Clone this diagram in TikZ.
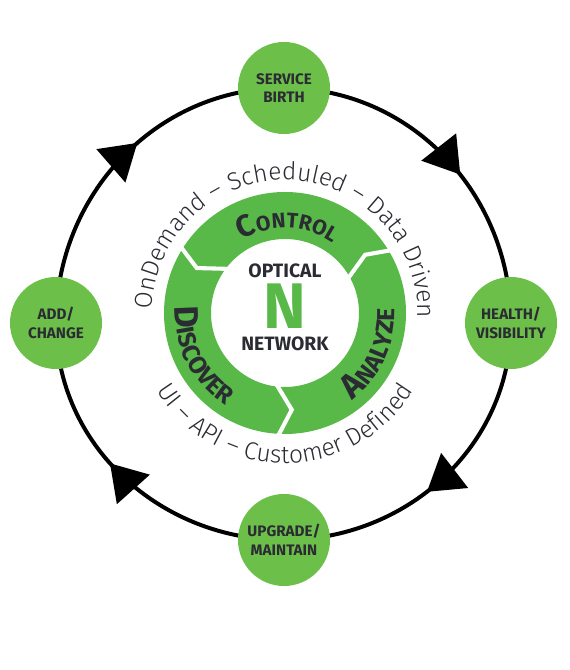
\documentclass[tikz,border=0pt]{standalone}
\usepackage{fontspec}
\setmainfont{Fira Sans}
\newfontfamily\lightfont{Fira Sans Light}
\usetikzlibrary{decorations.text,decorations.markings,arrows.meta,backgrounds}
\definecolor{nodegreen}{RGB}{108,192,74}
\definecolor{ringgreen}{RGB}{88,185,72}
\definecolor{inkgray}{RGB}{43,43,51}
\newcommand\ringbig{\bfseries\fontsize{26}{26}\selectfont\color{inkgray}}
\newcommand\ringsmall{\bfseries\fontsize{18}{18}\selectfont\color{inkgray}}
\newcommand\sidebig{\bfseries\fontsize{29}{29}\selectfont\color{inkgray}}
\newcommand\sidesmall{\bfseries\fontsize{21}{21}\selectfont\color{inkgray}}
\newcommand\arcfont{\lightfont\fontsize{21}{21}\selectfont\color{inkgray}}

\begin{document}
\begin{tikzpicture}[
    x=0.03cm, y=0.03cm,
    Snode/.style={circle, fill=nodegreen, minimum size=2.76cm, inner sep=0pt, align=center,
        font=\bfseries\fontsize{13}{16}\selectfont, text=inkgray},
    cyc/.style={line width=3.4pt, black, postaction={decorate},
        decoration={markings, mark=at position 0.56 with {\arrow{Triangle[length=1.05cm, width=1.3cm]}}}},
    gap/.style={white, line width=3.5pt, line join=miter},
    ctr/.style={font=\bfseries\fontsize{16.5}{16.5}\selectfont, text=inkgray, inner sep=0pt},
]
\useasboundingbox (0,0) rectangle (570,670);
\node[Snode] (birth) at (284,582) {SERVICE\\BIRTH};
\node[Snode] (health) at (511,347) {HEALTH/\\VISIBILITY};
\node[Snode] (upgrade) at (284,130) {UPGRADE/\\MAINTAIN};
\node[Snode] (addch) at (56,347) {ADD/\\CHANGE};
\begin{scope}[on background layer]
\draw[cyc] (birth.center) to[out=0, in=90] (health.center);
\draw[cyc] (health.center) to[out=-90, in=0] (upgrade.center);
\draw[cyc] (upgrade.center) to[out=180, in=-90] (addch.center);
\draw[cyc] (addch.center) to[out=90, in=180] (birth.center);
\end{scope}
\begin{scope}[shift={(285,357)}]
\fill[ringgreen, even odd rule] (0,0) circle[radius=121] (0,0) circle[radius=74];
\draw[gap] (147:127) -- (153:99) -- (141:70);
\draw[gap] (30:127) -- (36:99) -- (28:70);
\draw[gap] (266:127) -- (274:97) -- (262:70);
\path[decorate, decoration={text along path, text align=center,
    text={|\ringbig|C|\ringsmall|ONTROL}}] (148:85) arc[start angle=148, end angle=28, radius=85];
\path[decorate, decoration={text along path, text align=center,
    text={|\sidebig|D|\sidesmall|ISCOVER}}] (152:110) arc[start angle=152, end angle=262, radius=110];
\path[decorate, decoration={text along path, text align=center,
    text={|\sidebig|A|\sidesmall|NALYZE}}] (280:110) arc[start angle=280, end angle=390, radius=110];
\path[decorate, decoration={text along path, text align=center,
    text={|\arcfont|OnDemand – Scheduled – Data Driven}}] (198:133) arc[start angle=198, end angle=-22, radius=133];
\path[decorate, decoration={text along path, text align=center,
    text={|\arcfont|UI – API – Customer Defined}}] (200:150) arc[start angle=200, end angle=340, radius=150];
\end{scope}
\node[ctr] (optical) at (285,399) {OPTICAL};
\node[font=\bfseries\fontsize{55}{55}\selectfont, text=ringgreen, inner sep=0pt] (bigN) at (285,364) {N};
\node[ctr] (network) at (285,326) {NETWORK};
\end{tikzpicture}
\end{document}
